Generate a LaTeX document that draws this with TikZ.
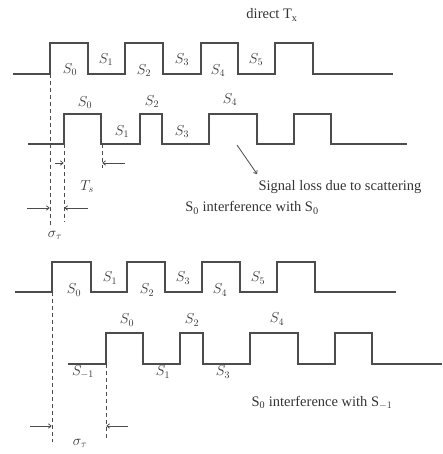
\documentclass[tikz,border=0pt]{standalone}
\usepackage{fontspec}
\setmainfont{Liberation Serif}
\usetikzlibrary{arrows.meta}
\begin{document}
\begin{tikzpicture}[x=1pt,y=-1pt,
  wave/.style={draw=black!70, line width=1.1pt},
  guide/.style={draw=black!70, dash pattern=on 4pt off 3pt, line width=0.8pt},
  dimarrow/.style={draw=black!70, line width=0.8pt, -{To[length=3.5pt,width=5pt]}},
  lbl/.style={font=\fontsize{14.5}{16}\selectfont, text=black!80, inner sep=0pt},
  sym/.style={font=\fontsize{14}{16}\selectfont, text=black!80, inner sep=0pt}]
\useasboundingbox (0,0) rectangle (442,454);

% waveforms
\draw[wave] (13,74) -- (50,74) -- (50,43) -- (88,43) -- (88,74) -- (125,74) -- (125,43) -- (163,43) -- (163,74) -- (201,74) -- (201,43) -- (238,43) -- (238,74) -- (275,74) -- (275,43) -- (313,43) -- (313,74) -- (393,74);
\draw[wave] (28,144) -- (64,144) -- (64,114) -- (101,114) -- (101,144) -- (140,144) -- (140,114) -- (162,114) -- (162,144) -- (209,144) -- (209,114) -- (257,114) -- (257,144) -- (294,144) -- (294,114) -- (331,114) -- (331,144) -- (407,144);
\draw[wave] (15,292) -- (52,292) -- (52,262) -- (91,262) -- (91,292) -- (127,292) -- (127,262) -- (165,262) -- (165,292) -- (202,292) -- (202,262) -- (240,262) -- (240,292) -- (277,292) -- (277,262) -- (315,262) -- (315,292) -- (396,292);
\draw[wave] (68,364) -- (106,364) -- (106,333) -- (143,333) -- (143,364) -- (180,364) -- (180,333) -- (203,333) -- (203,364) -- (250,364) -- (250,333) -- (298,333) -- (298,364) -- (335,364) -- (335,333) -- (372,333) -- (372,364) -- (442,364);

% dashed guides
\coordinate (gA1) at (50,74);   \coordinate (gA2) at (50,228);
\coordinate (gB1) at (64,144);  \coordinate (gB2) at (64,222);
\coordinate (gC1) at (102,144); \coordinate (gC2) at (102,168);
\coordinate (gD1) at (52,292);  \coordinate (gD2) at (52,442);
\coordinate (gE1) at (106,364); \coordinate (gE2) at (106,438);
\draw[guide] (gA1) -- (gA2);
\draw[guide] (gB1) -- (gB2);
\draw[guide] (gC1) -- (gC2);
\draw[guide] (gD1) -- (gD2);
\draw[guide] (gE1) -- (gE2);

% dimension arrows
\coordinate (ts1a) at (55,163);  \coordinate (ts1b) at (63.6,163);
\coordinate (ts2a) at (125,163); \coordinate (ts2b) at (102.4,163);
\coordinate (sg1a) at (27,208);  \coordinate (sg1b) at (49.6,208);
\coordinate (sg2a) at (88,208);  \coordinate (sg2b) at (64.4,208);
\coordinate (sh1a) at (30,426);  \coordinate (sh1b) at (51.6,426);
\coordinate (sh2a) at (128,426); \coordinate (sh2b) at (106.4,426);
\draw[dimarrow] (ts1a) -- (ts1b);
\draw[dimarrow] (ts2a) -- (ts2b);
\draw[dimarrow] (sg1a) -- (sg1b);
\draw[dimarrow] (sg2a) -- (sg2b);
\draw[dimarrow] (sh1a) -- (sh1b);
\draw[dimarrow] (sh2a) -- (sh2b);

% texts
\node[lbl] (direct) at (272,15) {direct T\textsubscript{x}};
\node[lbl] (loss) at (340,187) {Signal loss due to scattering};
\node[lbl] (int1) at (252,208) {S\textsubscript{0} interference with S\textsubscript{0}};
\node[lbl] (int2) at (322,403) {S\textsubscript{0} interference with S\textsubscript{$-1$}};
\coordinate (lossA) at (237,145);
\coordinate (lossB) at (257,174);
\draw[dimarrow] (lossA) -- (lossB);

\node[sym] (ts) at (87,187) {$T_s$};
\node[sym] (sig1) at (55,235) {$\sigma_\tau$};
\node[sym] (sig2) at (80,443) {$\sigma_\tau$};

% row 1 labels
\node[sym] (r1s0) at (70,70) {$S_0$};
\node[sym] (r1s1) at (106,60) {$S_1$};
\node[sym] (r1s2) at (144,71) {$S_2$};
\node[sym] (r1s3) at (182,60) {$S_3$};
\node[sym] (r1s4) at (218,71) {$S_4$};
\node[sym] (r1s5) at (256,60) {$S_5$};
% row 2 labels
\node[sym] (r2s0) at (85,103) {$S_0$};
\node[sym] (r2s2) at (152,102) {$S_2$};
\node[sym] (r2s4) at (230,100) {$S_4$};
\node[sym] (r2s1) at (122,132) {$S_1$};
\node[sym] (r2s3) at (182,132) {$S_3$};
% row 3 labels
\node[sym] (r3s0) at (74,290) {$S_0$};
\node[sym] (r3s1) at (110,278) {$S_1$};
\node[sym] (r3s2) at (147,290) {$S_2$};
\node[sym] (r3s3) at (183,278) {$S_3$};
\node[sym] (r3s4) at (220,290) {$S_4$};
\node[sym] (r3s5) at (258,278) {$S_5$};
% row 4 labels
\node[sym] (r4s0) at (127,320) {$S_0$};
\node[sym] (r4s2) at (192,320) {$S_2$};
\node[sym] (r4s4) at (277,319) {$S_4$};
\node[sym] (r4sm) at (83,372) {$S_{-1}$};
\node[sym] (r4s1) at (163,372) {$S_1$};
\node[sym] (r4s3) at (223,372) {$S_3$};
\end{tikzpicture}
\end{document}
